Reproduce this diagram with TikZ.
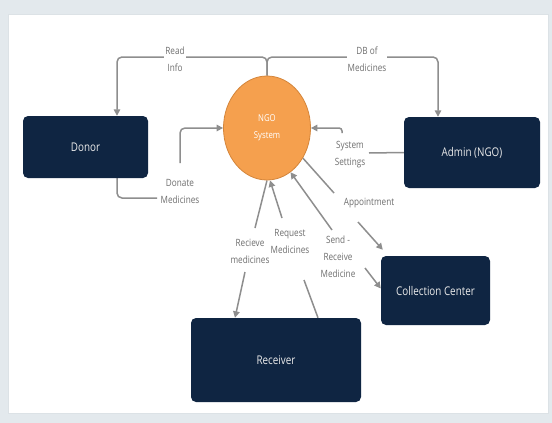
\documentclass[tikz,border=0pt]{standalone}
\usepackage{fontspec}
\setmainfont{Open Sans}[FakeStretch=0.82]
\usetikzlibrary{arrows.meta,shapes.geometric,backgrounds}
\definecolor{navy}{HTML}{0F2542}
\definecolor{orangefill}{HTML}{F5A04E}
\definecolor{orangeline}{HTML}{D4853A}
\definecolor{flowgray}{HTML}{8E8E8E}
\definecolor{labelgray}{HTML}{6E6E6E}
\definecolor{framegray}{HTML}{E3E9ED}
\definecolor{panelline}{HTML}{DCE2E6}
\begin{document}
\begin{tikzpicture}[x=1pt,y=-1pt,
  entity/.style={fill=navy, rounded corners=5pt, text=white!92!black,
    font=\fontsize{12}{14}\selectfont, inner sep=0pt},
  process/.style={ellipse, fill=orangefill, draw=orangeline, line width=0.8pt,
    minimum width=87pt, minimum height=104pt, inner sep=0pt, text=white,
    font=\fontsize{9.5}{17}\selectfont, align=center},
  flowlabel/.style={text=labelgray, font=\fontsize{10}{17}\selectfont,
    align=center, inner sep=1pt, fill=white},
  flow/.style={draw=flowgray, line width=1.5pt, rounded corners=5pt},
  arr/.style={-{Triangle[length=6.5pt,width=6.5pt]}}
]
\useasboundingbox (0,0) rectangle (552,423);

% page frame
\begin{pgfonlayer}{background}
\fill[framegray] (0,0) rectangle (552,423);
\filldraw[fill=white, draw=panelline, line width=0.6pt] (8,14) rectangle (548,413);
\end{pgfonlayer}

% external entities and the central process
\node[entity, minimum width=125pt, minimum height=62pt] (donor) at (85.5,147) {Donor};
\node[entity, minimum width=136pt, minimum height=71pt] (admin) at (472,152.5) {Admin (NGO)};
\node[entity, minimum width=109pt, minimum height=69pt] (cc) at (435.5,290.5) {Collection Center};
\node[entity, minimum width=170pt, minimum height=84pt] (recv) at (276,360) {Receiver};
\node[process] (ngo) at (267,128) {NGO\\System};

% flow labels
\node[flowlabel] (lread) at (175,59) {Read\\Info};
\node[flowlabel] (ldb) at (367,59) {DB of\\Medicines};
\node[flowlabel] (ldonate) at (180,191.5) {Donate\\Medicines};
\node[flowlabel] (lsys) at (350,154.5) {System\\Settings};
\node[flowlabel] (lappt) at (369,203) {Appointment};
\node[flowlabel] (lsend) at (338,257) {Send -\\Receive\\Medicine};
\node[flowlabel] (lrecv) at (250,251) {Recieve\\medicines};
\node[flowlabel] (lreq) at (290,241) {Request\\Medicines};

\coordinate (jtop) at (267,57);

\begin{pgfonlayer}{background}
% information read by donor and admin
\draw[flow,arr] (ngo.north) -- (jtop) -| ([xshift=31.5pt]donor.north);
\draw[flow,arr] (ngo.north) -- (jtop) -| ([xshift=-34pt]admin.north);

% donations
\draw[flow] ([xshift=31.5pt]donor.south) |- ([shift={(-23pt,-6.5pt)}]ldonate.center);
\draw[flow,arr] ([yshift=28.5pt]ldonate.center) |- (ngo.west);

% system settings
\draw[flow] (admin.west) -- ([shift={(19pt,1.5pt)}]lsys.center);
\draw[flow,arr,rounded corners=3pt] ([shift={(-8pt,21.5pt)}]lsys.center) |- (ngo.east);

% appointments
\draw[flow] (ngo.-40) -- ([shift={(-35pt,10pt)}]lappt.center);
\draw[flow,arr] ([shift={(-11pt,-19pt)}]lappt.center) -- ([shift={(2pt,6pt)}]cc.north west);

% medicine exchange with the collection center
\draw[flow,arr] ([shift={(-6pt,27pt)}]lsend.center) -- (ngo.-62);
\draw[flow,arr] ([shift={(27pt,-11pt)}]lsend.center) -- ([yshift=2pt]cc.west);

% receiver flows
\draw[flow] (ngo.south) -- ([shift={(5pt,23pt)}]lrecv.center);
\draw[flow,arr] ([shift={(-5pt,-21pt)}]lrecv.center) -- ([xshift=-41pt]recv.north);
\draw[flow] ([xshift=42pt]recv.north) -- ([shift={(14pt,-39pt)}]lreq.center);
\draw[flow,arr] ([shift={(-8pt,23pt)}]lreq.center) -- ([xshift=3pt]ngo.south);
\end{pgfonlayer}
\end{tikzpicture}
\end{document}
